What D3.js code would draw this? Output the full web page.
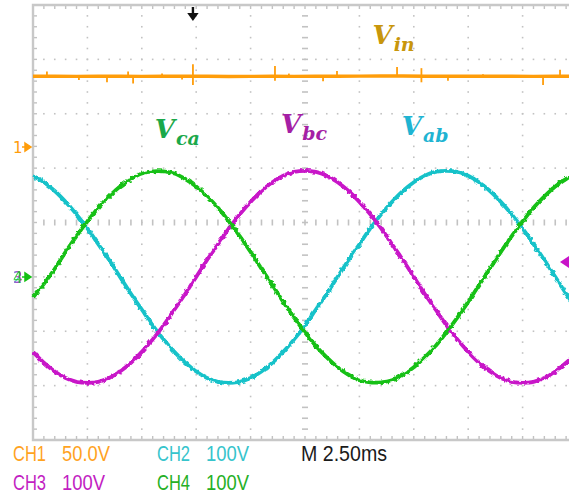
<!DOCTYPE html>
<html>
<head>
<meta charset="utf-8">
<script src="https://cdn.jsdelivr.net/npm/d3@7"></script>
<style>
  html, body { margin: 0; padding: 0; background: #ffffff; }
  svg { display: block; }
</style>
</head>
<body>
<svg id="chart" width="569" height="497">
  <defs>
    <filter id="noise" filterUnits="userSpaceOnUse" x="0" y="0" width="569" height="497">
      <feTurbulence type="fractalNoise" baseFrequency="0.3" numOctaves="1" seed="7" result="t"/>
      <feDisplacementMap in="SourceGraphic" in2="t" scale="4" xChannelSelector="R" yChannelSelector="G"/>
    </filter>
  </defs>
</svg>
<script>
// ---------------- DATA ----------------
// time axis (ms), 2.50 ms/div, 10 divisions
const timeMs = [0,0.5,1,1.5,2,2.5,3,3.5,4,4.5,5,5.5,6,6.5,7,7.5,8,8.5,9,9.5,10,10.5,11,11.5,12,12.5,13,13.5,14,14.5,15,15.5,16,16.5,17,17.5,18,18.5,19,19.5,20,20.5,21,21.5,22,22.5,23,23.5,24,24.5,25];

// CH4 (green) Vca, volts (100 V/div)
const vca = [-38,-13,15,46,75,102,127,148,166,180,190,194,194,190,180,166,148,127,102,75,46,15,-15,-46,-75,-102,-127,-148,-166,-180,-190,-194,-194,-190,-180,-166,-148,-127,-102,-75,-46,-15,15,46,75,102,127,148,166,180,190];

// CH3 (magenta) Vbc, volts (100 V/div)
const vbc = [-138,-158,-174,-186,-193,-195,-193,-186,-174,-158,-138,-115,-89,-60,-31,0,31,60,89,115,138,158,174,186,193,195,193,186,174,158,138,115,89,60,31,0,-31,-60,-89,-115,-138,-158,-174,-186,-193,-195,-193,-186,-174,-158,-138];

// CH2 (cyan) Vab, volts (100 V/div)
const vab = [186,174,158,138,115,89,60,31,0,-31,-60,-89,-115,-138,-158,-174,-186,-193,-195,-193,-186,-174,-158,-138,-115,-89,-60,-31,0,31,60,89,115,138,158,174,186,193,195,193,186,174,158,138,115,89,60,31,0,-31,-60];

// CH1 (orange) Vin, volts (50 V/div)
const vinTime = [0,1,2,3,4,5,6,7,8,9,10,11,12,13,14,15,16,17,18,19,20,21,22,23,24,25];
const vinValue = [65,65.2,64.9,65,65.1,64.9,65,65,65.1,64.8,64.9,65,64.9,65,65.1,65.2,65.3,65.3,65.1,65,65,65.1,65,64.9,65,65];
const spikeTime = [0.64,2.11,3.40,4.37,4.60,5.93,6.85,7.35,11.12,11.76,13.33,13.97,16.73,17.85,19.07,20.68,23.44,24.22];
const spikeHigh = [69.5,65,65,69.5,65,67.5,65,76,74.5,67.5,65,70,73.5,72.5,65,67,65,71];
const spikeLow  = [65,61.5,59.5,65,58.5,65,62,57,61,65,60.5,65,65,59.5,61,65,57,65];

// readouts
const chLabels = [
  {ch:"CH1", val:"50.0V", color:"#ffa31f", row:0, col:0},
  {ch:"CH2", val:"100V",  color:"#36c4cc", row:0, col:1},
  {ch:"CH3", val:"100V",  color:"#c21ec2", row:1, col:0},
  {ch:"CH4", val:"100V",  color:"#26b026", row:1, col:1}
];
const timebase = "M 2.50ms";

const traceLabels = [
  {main:"V", sub:"in", color:"#c8960c", t:15.6,  v:null},
  {main:"V", sub:"ca", color:"#1aa84a", t:5.6,  v:255},
  {main:"V", sub:"bc", color:"#a51fa5", t:11.4, v:265},
  {main:"V", sub:"ab", color:"#1fb4d2", t:16.95, v:261}
];

(function draw() {
  const svg = d3.select("#chart");
  const pL = 33, pR = 577, pT = 5, pB = 440;

  const x = d3.scaleLinear().domain([0, 25]).range([pL, pR]);
  const y = d3.scaleLinear().domain([-300, 500]).range([pB, pT]);
  const div = (pB - pT) / 8;
  const yVin = d3.scaleLinear().domain([0, 50]).range([147, 147 - div]);

  const gridCol = "#c2c2c2";
  const g = svg.append("g");

  const majorT = d3.range(0, 25.001, 2.5);
  const minorT = d3.range(0, 25.001, 0.5);
  const majorV = d3.range(-300, 500.001, 100);
  const minorV = d3.range(-300, 500.001, 20);

  majorT.slice(1).forEach(t => {
    if (Math.abs(t - 12.5) < 1e-6) return;
    minorV.forEach(v => {
      g.append("rect").attr("x", x(t) - 0.8).attr("y", y(v) - 0.8)
        .attr("width", 1.6).attr("height", 1.6).attr("fill", gridCol);
    });
  });
  majorV.slice(1, -1).forEach(v => {
    if (Math.abs(v - 100) < 1e-6) return;
    minorT.forEach(t => {
      g.append("rect").attr("x", x(t) - 0.8).attr("y", y(v) - 0.8)
        .attr("width", 1.6).attr("height", 1.6).attr("fill", gridCol);
    });
  });
  minorT.forEach(t => {
    g.append("line").attr("x1", x(t)).attr("x2", x(t))
      .attr("y1", y(100) - 3).attr("y2", y(100) + 3)
      .attr("stroke", gridCol).attr("stroke-width", 1.6);
  });
  minorV.forEach(v => {
    g.append("line").attr("x1", x(12.5) - 3).attr("x2", x(12.5) + 3)
      .attr("y1", y(v)).attr("y2", y(v))
      .attr("stroke", gridCol).attr("stroke-width", 1.6);
  });
  minorT.forEach(t => {
    g.append("line").attr("x1", x(t)).attr("x2", x(t)).attr("y1", pT).attr("y2", pT + 4)
      .attr("stroke", gridCol).attr("stroke-width", 1.4);
    g.append("line").attr("x1", x(t)).attr("x2", x(t)).attr("y1", pB).attr("y2", pB - 4)
      .attr("stroke", gridCol).attr("stroke-width", 1.4);
  });
  minorV.forEach(v => {
    g.append("line").attr("x1", pL).attr("x2", pL + 4).attr("y1", y(v)).attr("y2", y(v))
      .attr("stroke", gridCol).attr("stroke-width", 1.4);
  });
  g.append("path")
    .attr("d", `M${pR},${pT}H${pL}V${pB}H${pR}`)
    .attr("fill", "none").attr("stroke", "#c8c8c8").attr("stroke-width", 2.4);

  // traces
  const line = d3.line().x((d, i) => x(timeMs[i])).y(d => y(d)).curve(d3.curveCatmullRom);
  const vinLine = d3.line().x((d, i) => x(vinTime[i])).y(d => yVin(d));
  svg.append("path").datum(vinValue).attr("d", vinLine)
    .attr("fill", "none").attr("stroke", "#ff9d0a").attr("stroke-width", 3.4);
  svg.selectAll(".spike").data(spikeTime).enter().append("line")
    .attr("x1", d => x(d)).attr("x2", d => x(d))
    .attr("y1", (d, i) => yVin(spikeHigh[i])).attr("y2", (d, i) => yVin(spikeLow[i]))
    .attr("stroke", "#ff9d0a").attr("stroke-width", 1.8);

  [[vab, "#19c2c9"], [vbc, "#c814c8"], [vca, "#14c014"]].forEach(([data, col]) => {
    svg.append("path").datum(data).attr("d", line)
      .attr("fill", "none").attr("stroke", col).attr("stroke-width", 3.8)
      .attr("stroke-linejoin", "round")
      .attr("filter", "url(#noise)");
  });

  // markers
  svg.append("path")
    .attr("d", `M${x(7.35) - 1.2},7 h2.4 v6 h4.5 l-5.7,8 l-5.7,-8 h4.5 z`)
    .attr("fill", "#111");
  svg.append("path").attr("d", "M560,262 l9,-6 v12 z").attr("fill", "#c814c8");
  svg.append("text").attr("x", 13).attr("y", yVin(0) + 6).text("1")
    .attr("font-family", "DejaVu Sans").attr("font-size", 15).attr("fill", "#ff9d0a");
  svg.append("path").attr("d", `M22,${yVin(0)} h4 M25,${yVin(0) - 4} l6,4 l-6,4 z`)
    .attr("stroke", "#ff9d0a").attr("stroke-width", 1.5).attr("fill", "#ff9d0a");
  [["2", "#19c2c9"], ["3", "#c814c8"], ["4", "#14c014"]].forEach(([s, c]) => {
    svg.append("text").attr("x", 13).attr("y", y(0) + 6).text(s)
      .attr("font-family", "DejaVu Sans").attr("font-size", 15).attr("fill", c).attr("opacity", 0.75);
  });
  svg.append("path").attr("d", `M22,${y(0)} h4 M25,${y(0) - 4} l6,4 l-6,4 z`)
    .attr("stroke", "#14c014").attr("stroke-width", 1.5).attr("fill", "#14c014");

  // labels
  traceLabels.forEach(l => {
    const ty = l.v === null ? 44 : y(l.v);
    const t = svg.append("text").attr("x", x(l.t)).attr("y", ty)
      .attr("font-family", "DejaVu Serif").attr("font-weight", "bold").attr("font-style", "italic")
      .attr("fill", l.color);
    t.append("tspan").attr("font-size", 26).text(l.main);
    t.append("tspan").attr("font-size", 19).attr("dy", 7).attr("dx", 1).text(l.sub);
  });

  const colX = [[13, 62], [157, 206]];
  const rowY = [461, 490];
  chLabels.forEach(c => {
    const cx = colX[c.col], cy = rowY[c.row];
    svg.append("text").attr("x", cx[0]).attr("y", cy).text(c.ch)
      .attr("font-family", "Liberation Sans").attr("font-size", 22)
      .attr("textLength", 33).attr("lengthAdjust", "spacingAndGlyphs").attr("fill", c.color);
    svg.append("text").attr("x", cx[1]).attr("y", cy).text(c.val)
      .attr("font-family", "Liberation Sans").attr("font-size", 22)
      .attr("textLength", c.val.length === 5 ? 48 : 43).attr("lengthAdjust", "spacingAndGlyphs").attr("fill", c.color);
  });
  svg.append("text").attr("x", 301).attr("y", 461).text(timebase)
    .attr("font-family", "Liberation Sans").attr("font-size", 22)
    .attr("textLength", 86).attr("lengthAdjust", "spacingAndGlyphs").attr("fill", "#1a1a1a");
})();
</script>
</body>
</html>
